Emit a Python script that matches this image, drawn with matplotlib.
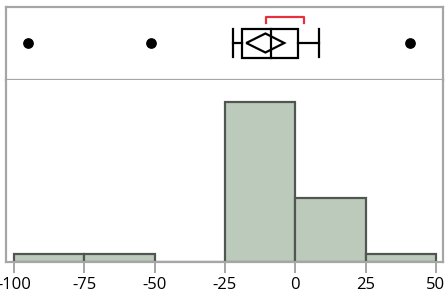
import numpy as np
import matplotlib.pyplot as plt
from matplotlib.patches import Polygon

# histogram bins and counts
bin_edges = [-100, -75, -50, -25, 0, 25, 50]
counts = [1, 1, 0, 20, 8, 1]

# outlier box plot summary
outliers = [-95, -51.4, 40.8]
whisker_lo, q1, median, q3, whisker_hi = -22.0, -18.8, -8.5, 1.1, 8.5
mean_ci = (-17.4, -10.6, -3.9)      # lower, mean, upper
shortest_half = (-10.3, 3.2)

ticks = [-100, -75, -50, -25, 0, 25, 50]

FRAME = '#a6a6a6'
BAR_FILL = '#bccabc'
BAR_EDGE = '#505650'

plt.rcParams['font.family'] = ['Open Sans', 'DejaVu Sans']

fig = plt.figure(figsize=(4.45, 3.02), dpi=100)
W, H = 445, 302
xlim = (-102.85, 52.55)

ax_box = fig.add_axes([6 / W, (H - 80) / H, 437 / W, 73 / H])
ax_hist = fig.add_axes([6 / W, (H - 262) / H, 437 / W, 182 / H])

# --- box plot panel ---
ax_box.set_xlim(*xlim)
ax_box.set_ylim(0, 73)
yc = 37
ax_box.scatter(outliers, [yc] * len(outliers), s=45, color='black', zorder=3)
ax_box.add_patch(plt.Rectangle((q1, yc - 14.5), q3 - q1, 29, fill=False,
                               edgecolor='black', lw=1.6))
ax_box.plot([median, median], [yc - 14.5, yc + 14.5], color='black', lw=1.6)
ax_box.plot([whisker_lo, q1], [yc, yc], color='black', lw=1.6)
ax_box.plot([q3, whisker_hi], [yc, yc], color='black', lw=1.6)
for w in (whisker_lo, whisker_hi):
    ax_box.plot([w, w], [yc - 14, yc + 14], color='black', lw=1.6)
lo, mu, hi = mean_ci
diamond = Polygon([(lo, yc), (mu, yc + 9.5), (hi, yc), (mu, yc - 9.5)],
                  closed=True, fill=False, edgecolor='black', lw=1.6)
ax_box.add_patch(diamond)
s0, s1 = shortest_half
ax_box.plot([s0, s0, s1, s1], [57, 63.5, 63.5, 57], color='#e8303c', lw=1.6)
ax_box.set_xticks([])
ax_box.set_yticks([])
for sp in ax_box.spines.values():
    sp.set_color(FRAME)
    sp.set_linewidth(1.6)

# --- histogram panel ---
ax_hist.hist(bin_edges[:-1], bins=bin_edges, weights=counts,
             color=BAR_FILL, edgecolor=BAR_EDGE, linewidth=1.6)
ax_hist.set_xlim(*xlim)
ax_hist.set_ylim(0, 22.75)
ax_hist.set_yticks([])
ax_hist.set_xticks(ticks)
ax_hist.set_xticklabels([str(t) for t in ticks], fontsize=12)
ax_hist.tick_params(axis='x', length=8, width=1.4, color=FRAME, pad=3)
ax_hist.spines['top'].set_visible(False)
for sp in ('left', 'right', 'bottom'):
    ax_hist.spines[sp].set_color(FRAME)
    ax_hist.spines[sp].set_linewidth(1.6)

fig.savefig('out.png', dpi=100)
